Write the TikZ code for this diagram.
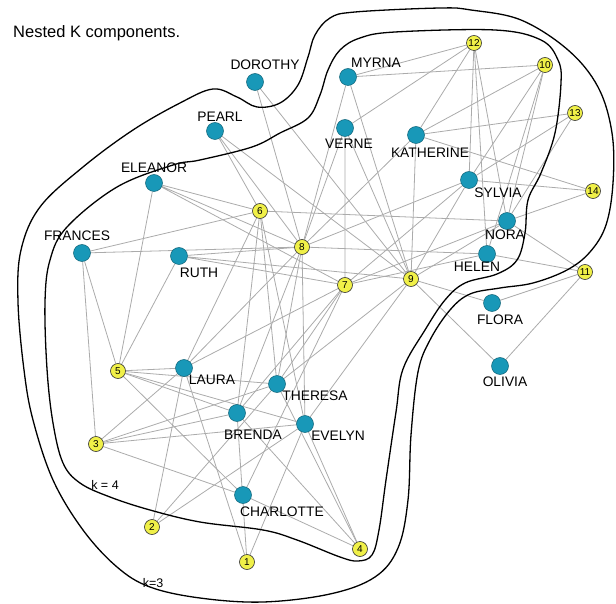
\documentclass[tikz,border=0pt]{standalone}
\usepackage{fontspec}
\setmainfont{Liberation Sans}
\usetikzlibrary{backgrounds}
\definecolor{womanblue}{RGB}{24,152,184}
\definecolor{eventyellow}{RGB}{240,240,72}
\tikzset{%
  woman/.style={circle,inner sep=0pt,minimum size=17pt,draw=#1!65!black,line width=0.5pt,fill=#1},
  woman/.default=womanblue,
  event/.style={circle,inner sep=0pt,minimum size=15pt,draw=black!80,line width=0.6pt,
    fill=eventyellow,font=\fontsize{10}{10}\selectfont},
  tag/.style={inner sep=0pt,font=\fontsize{13.8}{14}\selectfont},
  edge/.style={line width=0.8pt,draw=#1},
  edge/.default=black!33,
  contour/.style={line width=1.3pt,draw=black}
}

\begin{document}
\begin{tikzpicture}[x=1pt,y=-1pt]

    \useasboundingbox (0,0) rectangle (616,604);

    % Title
    \node[anchor=west,inner sep=0pt,font=\fontsize{16.5}{17}\selectfont] (title) at (13,33) {Nested K components.};

    % Women (one side of the bipartite graph)
    \node[woman] (dorothy) at (255,82) {};
    \node[woman] (pearl) at (215,131) {};
    \node[woman] (eleanor) at (154,183) {};
    \node[woman] (frances) at (82,253) {};
    \node[woman] (ruth) at (179,256) {};
    \node[woman] (myrna) at (348,77) {};
    \node[woman] (verne) at (345,128) {};
    \node[woman] (katherine) at (416,135) {};
    \node[woman] (sylvia) at (469,180) {};
    \node[woman] (nora) at (507,221) {};
    \node[woman] (helen) at (487,254) {};
    \node[woman] (laura) at (184,368) {};
    \node[woman] (theresa) at (277,384) {};
    \node[woman] (brenda) at (237,413) {};
    \node[woman] (evelyn) at (305,424) {};
    \node[woman] (charlotte) at (243,495) {};
    \node[woman] (flora) at (492,303) {};
    \node[woman] (olivia) at (500,366) {};

    % Their names
    \node[tag] (dorothy-t) at (265,65) {DOROTHY};
    \node[tag] (pearl-t) at (220,117) {PEARL};
    \node[tag] (eleanor-t) at (154,168) {ELEANOR};
    \node[tag] (frances-t) at (77,236) {FRANCES};
    \node[tag] (ruth-t) at (199,273) {RUTH};
    \node[tag] (myrna-t) at (376,63) {MYRNA};
    \node[tag] (verne-t) at (349,144) {VERNE};
    \node[tag] (katherine-t) at (430,153) {KATHERINE};
    \node[tag] (sylvia-t) at (498,193) {SYLVIA};
    \node[tag] (nora-t) at (505,235) {NORA};
    \node[tag] (helen-t) at (477,267) {HELEN};
    \node[tag] (laura-t) at (212,380) {LAURA};
    \node[tag] (theresa-t) at (315,396) {THERESA};
    \node[tag] (brenda-t) at (253,435) {BRENDA};
    \node[tag] (evelyn-t) at (338,436) {EVELYN};
    \node[tag] (charlotte-t) at (282,512) {CHARLOTTE};
    \node[tag] (flora-t) at (500,320) {FLORA};
    \node[tag] (olivia-t) at (505,382) {OLIVIA};

    % Events (other side)
    \node[event] (e1) at (247,562) {1};
    \node[event] (e2) at (152,527) {2};
    \node[event] (e3) at (96,444) {3};
    \node[event] (e4) at (360,549) {4};
    \node[event] (e5) at (118,371) {5};
    \node[event] (e6) at (260,211) {6};
    \node[event] (e7) at (345,285) {7};
    \node[event] (e8) at (302,247) {8};
    \node[event] (e9) at (411,279) {9};
    \node[event] (e10) at (545,65) {10};
    \node[event] (e11) at (585,272) {11};
    \node[event] (e12) at (474,43) {12};
    \node[event] (e13) at (575,113) {13};
    \node[event] (e14) at (593,191) {14};

    % k labels
    \node[tag,font=\fontsize{12.5}{13}\selectfont] (k4) at (105,485) {k = 4};
    \node[tag,font=\fontsize{12.5}{13}\selectfont] (k3) at (153,583) {k=3};

    \begin{scope}[on background layer]
    % Attendance edges
    \draw[edge] (evelyn) -- (e1) (evelyn) -- (e2) (evelyn) -- (e3) (evelyn) -- (e4)
        (evelyn) -- (e5) (evelyn) -- (e6) (evelyn) -- (e8) (evelyn) -- (e9);
    \draw[edge] (laura) -- (e1) (laura) -- (e2) (laura) -- (e3) (laura) -- (e5)
        (laura) -- (e6) (laura) -- (e7) (laura) -- (e8);
    \draw[edge] (theresa) -- (e2) (theresa) -- (e3) (theresa) -- (e4) (theresa) -- (e5)
        (theresa) -- (e6) (theresa) -- (e7) (theresa) -- (e8) (theresa) -- (e9);
    \draw[edge] (brenda) -- (e1) (brenda) -- (e3) (brenda) -- (e4) (brenda) -- (e5)
        (brenda) -- (e6) (brenda) -- (e7) (brenda) -- (e8);
    \draw[edge] (charlotte) -- (e3) (charlotte) -- (e4) (charlotte) -- (e5) (charlotte) -- (e7);
    \draw[edge] (frances) -- (e3) (frances) -- (e5) (frances) -- (e6) (frances) -- (e8);
    \draw[edge] (eleanor) -- (e5) (eleanor) -- (e6) (eleanor) -- (e7) (eleanor) -- (e8);
    \draw[edge] (pearl) -- (e6) (pearl) -- (e8) (pearl) -- (e9);
    \draw[edge] (ruth) -- (e5) (ruth) -- (e7) (ruth) -- (e8) (ruth) -- (e9);
    \draw[edge] (verne) -- (e7) (verne) -- (e8) (verne) -- (e9) (verne) -- (e12);
    \draw[edge] (myrna) -- (e8) (myrna) -- (e9) (myrna) -- (e10) (myrna) -- (e12);
    \draw[edge] (katherine) -- (e8) (katherine) -- (e9) (katherine) -- (e10)
        (katherine) -- (e12) (katherine) -- (e13) (katherine) -- (e14);
    \draw[edge] (sylvia) -- (e7) (sylvia) -- (e8) (sylvia) -- (e9) (sylvia) -- (e10)
        (sylvia) -- (e12) (sylvia) -- (e13) (sylvia) -- (e14);
    \draw[edge] (nora) -- (e6) (nora) -- (e7) (nora) -- (e9) (nora) -- (e10)
        (nora) -- (e11) (nora) -- (e12) (nora) -- (e13) (nora) -- (e14);
    \draw[edge] (helen) -- (e7) (helen) -- (e8) (helen) -- (e10) (helen) -- (e11) (helen) -- (e12);
    \draw[edge] (dorothy) -- (e8) (dorothy) -- (e9);
    \draw[edge] (olivia) -- (e9) (olivia) -- (e11);
    \draw[edge] (flora) -- (e9) (flora) -- (e11);

    % Outer contour, k=3
    \draw[contour] plot[smooth cycle,tension=0.6] coordinates {
        (308,57) (315,35) (330,18) (355,12) (440,8) (471,10) (521,20) (568,50)
        (598,87) (612,133) (613,183) (606,225) (590,252) (567,270) (533,283)
        (500,288) (470,294) (450,310) (430,340) (418,372) (411,435) (408,500)
        (398,548) (375,577) (330,594) (263,602) (200,598) (150,587) (117,567)
        (83,530) (53,480) (33,420) (24,370) (18,302) (21,250) (40,207) (83,167)
        (133,130) (180,103) (213,89) (237,97) (257,107) (280,103) (298,85)};

    % Inner contour, k=4
    \draw[contour] plot[smooth cycle,tension=0.6] coordinates {
        (280,133) (308,118) (320,95) (328,70) (340,50) (360,38) (395,32)
        (495,30) (541,40) (558,60) (561,83) (555,133) (541,173) (528,200)
        (525,233) (517,260) (497,274) (465,283) (445,300) (425,330) (403,369)
        (396,412) (386,480) (379,530) (372,555) (358,561) (340,557) (297,540)
        (263,530) (200,522) (150,510) (110,497) (80,483) (63,463) (53,423)
        (47,369) (45,302) (50,260) (67,227) (117,187) (173,165) (200,160) (252,147)};
    \end{scope}

\end{tikzpicture}
\end{document}
